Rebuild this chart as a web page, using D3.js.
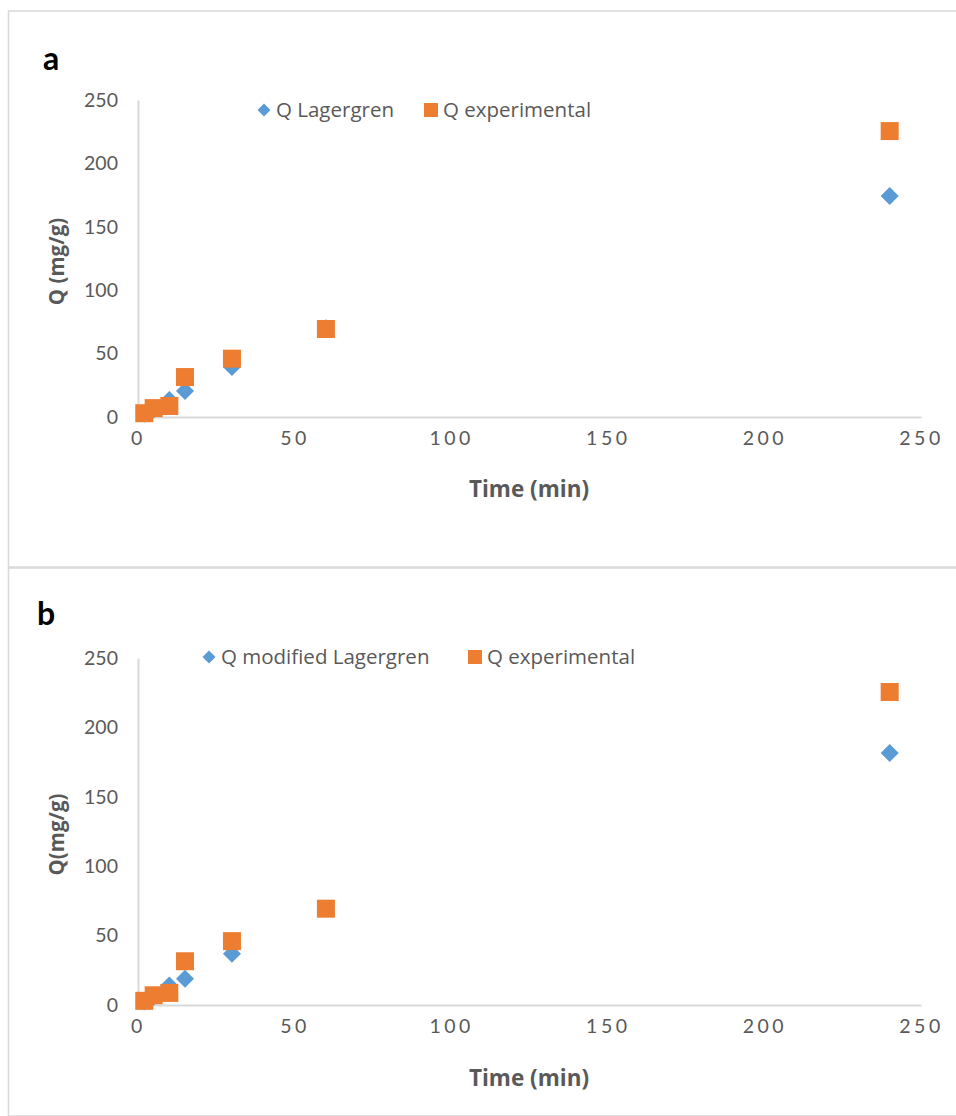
<!DOCTYPE html>
<html>
<head>
<meta charset="utf-8">
<script src="https://cdn.jsdelivr.net/npm/d3@7"></script>
<style>
  body { margin: 0; background: #fff; }
  text { font-family: Lato, "Open Sans", sans-serif; fill: #595959; }
</style>
</head>
<body>
<div id="container-svg"></div>
<script>
// ***************************** DATA *****************************
var time_min = [2, 5, 10, 15, 30, 60, 240];
var q_experimental = [3, 7, 8.7, 31.5, 46, 69.4, 225.5];
var q_lagergren = [2.5, 6, 13.5, 20.5, 39.5, 70, 174.3];
var q_modified_lagergren = [2.5, 6, 14, 19, 37, 69.5, 181.5];

var x_ticks = [0, 50, 100, 150, 200, 250];
var y_ticks = [0, 50, 100, 150, 200, 250];

var panels = [
    {letter: "a", top: 11, bottom: 567, y0: 417, y1: 100, ylabel: "Q (mg/g)", model: q_lagergren,
     model_name: "Q Lagergren", leg_diamond: 264, leg_square: 431, leg_y: 110, xlabel_y: 489, letter_y: 70, letter_x: 43},
    {letter: "b", top: 568, bottom: 1116, y0: 1005, y1: 658, ylabel: "Q(mg/g)", model: q_modified_lagergren,
     model_name: "Q modified Lagergren", leg_diamond: 209, leg_square: 475, leg_y: 657, xlabel_y: 1078, letter_y: 625, letter_x: 37}
];

var color_exp = "#ED7D31",
    color_model = "#5B9BD5",
    color_axis = "#d9d9d9";

var svg = d3.select("#container-svg").append("svg")
    .attr("width", 956)
    .attr("height", 1116);

var scale_x = d3.scaleLinear().domain([0, 250]).range([138, 921]);

panels.forEach(function(p) {
    // frame
    svg.append("rect")
        .attr("x", 8.5).attr("y", p.top)
        .attr("width", 960).attr("height", p.bottom - p.top)
        .attr("fill", "none")
        .attr("stroke", color_axis)
        .attr("stroke-width", 1.5);

    var scale_y = d3.scaleLinear().domain([0, 250]).range([p.y0, p.y1]);

    // axes
    var g_x = svg.append("g").attr("transform", "translate(0," + p.y0 + ")")
        .call(d3.axisBottom(scale_x).tickValues(x_ticks).tickSize(0).tickPadding(21));
    var g_y = svg.append("g").attr("transform", "translate(138,0)")
        .call(d3.axisLeft(scale_y).tickValues(y_ticks).tickSize(0).tickPadding(22));

    [g_x, g_y].forEach(function(g) {
        g.select(".domain").attr("stroke", color_axis).attr("stroke-width", 2);
        g.selectAll("text")
            .attr("font-family", "Lato, 'Open Sans', sans-serif")
            .attr("font-size", 19.5)
            .attr("fill", "#595959");
    });
    g_x.selectAll("text").attr("letter-spacing", 3.5).attr("dy", "0.35em");
    g_y.selectAll("text").attr("dx", "0.1em");

    // markers: model first, experimental on top
    svg.append("g").selectAll("path")
        .data(time_min.map(function(t, i) { return [t, p.model[i]]; }))
        .enter().append("path")
        .attr("d", "M0,-9L9,0L0,9L-9,0Z")
        .attr("transform", function(d) { return "translate(" + scale_x(d[0]) + "," + scale_y(d[1]) + ")"; })
        .attr("fill", color_model);

    svg.append("g").selectAll("rect")
        .data(time_min.map(function(t, i) { return [t, q_experimental[i]]; }))
        .enter().append("rect")
        .attr("x", function(d) { return scale_x(d[0]) - 9; })
        .attr("y", function(d) { return scale_y(d[1]) - 9; })
        .attr("width", 18).attr("height", 18)
        .attr("fill", color_exp);

    // legend
    svg.append("path")
        .attr("d", "M0,-6.5L6.5,0L0,6.5L-6.5,0Z")
        .attr("transform", "translate(" + p.leg_diamond + "," + p.leg_y + ")")
        .attr("fill", color_model);
    svg.append("text")
        .attr("x", p.leg_diamond + 12).attr("y", p.leg_y)
        .attr("dy", "0.35em")
        .style("font-family", "'Open Sans', sans-serif")
        .attr("font-size", 20.5)
        .text(p.model_name);
    svg.append("rect")
        .attr("x", p.leg_square - 7).attr("y", p.leg_y - 7)
        .attr("width", 14).attr("height", 14)
        .attr("fill", color_exp);
    svg.append("text")
        .attr("x", p.leg_square + 12).attr("y", p.leg_y)
        .attr("dy", "0.35em")
        .style("font-family", "'Open Sans', sans-serif")
        .attr("font-size", 20.5)
        .text("Q experimental");

    // labels
    svg.append("text")
        .attr("x", p.letter_x).attr("y", p.letter_y)
        .attr("font-size", 32).attr("font-weight", "bold")
        .style("fill", "#000")
        .text(p.letter);
    svg.append("text")
        .attr("x", 529).attr("y", p.xlabel_y)
        .attr("dy", "0.35em")
        .attr("text-anchor", "middle")
        .style("font-family", "'Open Sans', sans-serif")
        .attr("font-size", 22.5).attr("font-weight", "bold")
        .text("Time (min)");
    svg.append("text")
        .attr("transform", "translate(57," + ((p.y0 + p.y1) / 2 + 3) + ") rotate(-90)")
        .attr("dy", "0.35em")
        .attr("text-anchor", "middle")
        .style("font-family", "'Open Sans', sans-serif")
        .attr("font-size", 20.5).attr("font-weight", "bold")
        .text(p.ylabel);
});
</script>
</body>
</html>
